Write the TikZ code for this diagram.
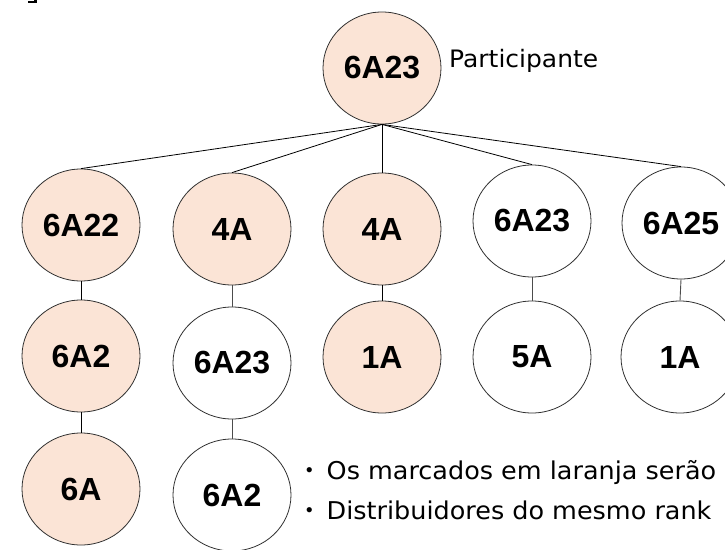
\documentclass[tikz,border=0pt]{standalone}
\usepackage{fontspec}
\setmainfont[FakeStretch=1.04]{DejaVu Sans}
\newfontfamily\labelfont{Liberation Sans}
\newfontfamily\cjk{Noto Sans CJK JP}
\usetikzlibrary{shapes.geometric}
\definecolor{peach}{HTML}{FBE4D6}
\definecolor{edge}{HTML}{303030}
\tikzset{
  x=1pt, y=-1pt,
  member/.style={ellipse, draw=edge, line width=0.8pt, fill=white,
    minimum width=118pt, minimum height=112pt, inner sep=0pt,
    font=\labelfont\bfseries\fontsize{32}{36}\selectfont},
  marked/.style={member, fill=peach},
  link/.style={draw=black, line width=0.8pt},
  vlink/.style={draw=black!70, line width=0.9pt},
  note/.style={anchor=base west, inner sep=0pt, font=\fontsize{24.5}{28}\selectfont}
}
\begin{document}
\begin{tikzpicture}
\useasboundingbox (0,0) rectangle (725,549);
\clip (0,0) rectangle (725,549);
\fill[black] (28,0.6) rectangle (37,3.3);
\fill[black] (33.5,0) rectangle (37,3.3);

\node[marked] (top) at (382,68) {6A23};
\node[note, font=\fontsize{24}{28}\selectfont] (part) at (449,67) {Participante};

\node[marked] (a1) at (81,225) {6A22};
\node[marked] (a2) at (81,356) {6A2};
\node[marked] (a3) at (81,489) {6A};

\node[marked] (b1) at (232,229) {4A};
\node[member] (b2) at (232,363) {6A23};
\node[member] (b3) at (232,495) {6A2};

\node[marked] (c1) at (382,229) {4A};
\node[marked] (c2) at (382,357) {1A};

\node[member] (d1) at (532,221) {6A23};
\node[member] (d2) at (532,357) {5A};

\node[member] (e1) at (681,223) {6A25};
\node[member] (e2) at (680,357) {1A};

\foreach \n in {a1,b1,c1,d1,e1} \draw[link] (top.south) -- (\n.north);
\draw[link] (a1.south) -- (a2.north);
\draw[link] (a2.south) -- (a3.north);
\draw[vlink] (b1.south) -- (b2.north);
\draw[vlink] (b2.south) -- (b3.north);
\draw[link] (c1.south) -- (c2.north);
\draw[vlink] (d1.south) -- (d2.north);
\draw[vlink] (e1.south) -- (e2.north);

\node[note] (n1) at (297,479) {{\cjk ・}\kern5pt Os marcados em laranja serão};
\node[note] (n2) at (297,519) {{\cjk ・}\kern5pt Distribuidores do mesmo rank};
\end{tikzpicture}
\end{document}
